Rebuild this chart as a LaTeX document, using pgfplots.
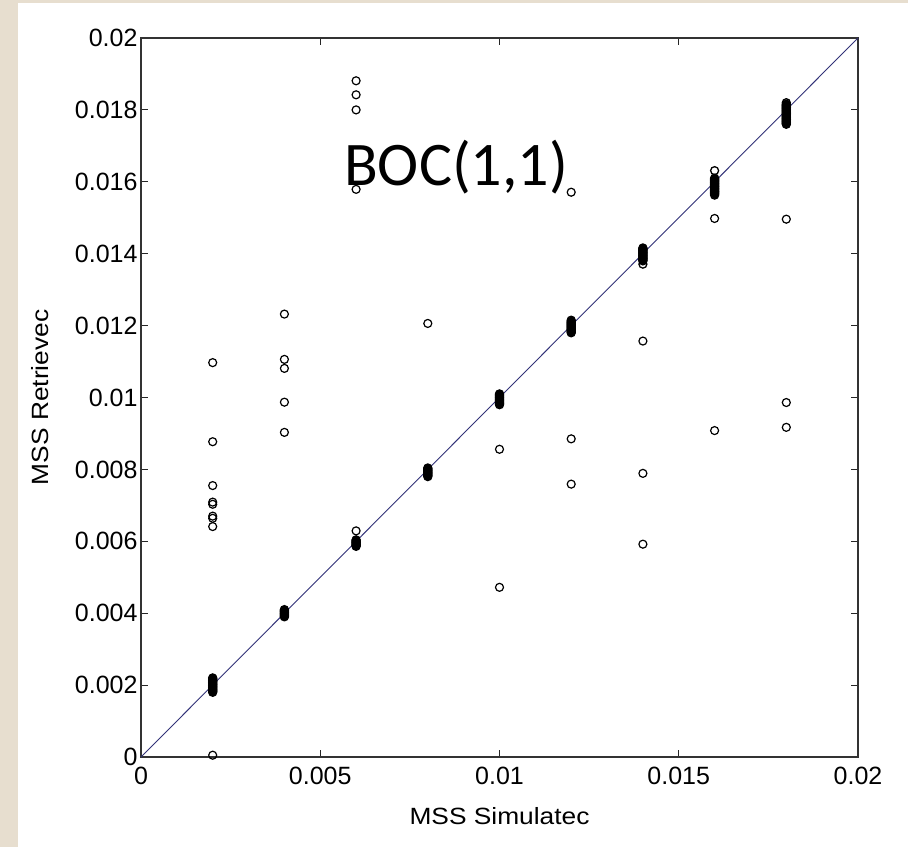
\documentclass[border=0pt]{standalone}
\usepackage{fontspec}
\usepackage{graphicx}
\usepackage{pgfplots}
\pgfplotsset{compat=1.18}
\setmainfont{Liberation Sans}
\newfontfamily\calib{Carlito}
\definecolor{beige}{RGB}{231,222,207}
\definecolor{diag}{RGB}{50,50,120}
\pgfplotstableread{
x y
0.002 0.0018
0.002 0.00182
0.002 0.00184
0.002 0.00186
0.002 0.00188
0.002 0.0019
0.002 0.00192
0.002 0.00194
0.002 0.00196
0.002 0.00198
0.002 0.002
0.002 0.00202
0.002 0.00204
0.002 0.00206
0.002 0.00208
0.002 0.0021
0.002 0.00212
0.002 0.00214
0.002 0.00216
0.002 0.00218
0.002 0.0022
0.004 0.0039
0.004 0.00392
0.004 0.00394
0.004 0.00396
0.004 0.00398
0.004 0.004
0.004 0.00402
0.004 0.00404
0.004 0.00406
0.004 0.00408
0.004 0.0041
0.006 0.00586
0.006 0.00588
0.006 0.0059
0.006 0.00592
0.006 0.00594
0.006 0.00596
0.006 0.00598
0.006 0.006
0.006 0.00602
0.006 0.00604
0.008 0.0078
0.008 0.00782
0.008 0.00784
0.008 0.00786
0.008 0.00788
0.008 0.0079
0.008 0.00792
0.008 0.00794
0.008 0.00796
0.008 0.00798
0.008 0.008
0.008 0.00802
0.008 0.00804
0.010 0.0098
0.010 0.00982
0.010 0.00984
0.010 0.00986
0.010 0.00988
0.010 0.0099
0.010 0.00992
0.010 0.00994
0.010 0.00996
0.010 0.00998
0.010 0.01
0.010 0.01002
0.010 0.01004
0.010 0.01006
0.010 0.01008
0.010 0.0101
0.012 0.0118
0.012 0.01182
0.012 0.01184
0.012 0.01186
0.012 0.01188
0.012 0.0119
0.012 0.01192
0.012 0.01194
0.012 0.01196
0.012 0.01198
0.012 0.012
0.012 0.01202
0.012 0.01204
0.012 0.01206
0.012 0.01208
0.012 0.0121
0.012 0.01212
0.012 0.01215
0.014 0.01371
0.014 0.0138
0.014 0.01382
0.014 0.01384
0.014 0.01386
0.014 0.01388
0.014 0.0139
0.014 0.01392
0.014 0.01394
0.014 0.01396
0.014 0.01398
0.014 0.014
0.014 0.01402
0.014 0.01404
0.014 0.01406
0.014 0.01408
0.014 0.0141
0.014 0.01412
0.014 0.01414
0.014 0.01416
0.016 0.01563
0.016 0.01566
0.016 0.01568
0.016 0.0157
0.016 0.01572
0.016 0.01574
0.016 0.01576
0.016 0.01578
0.016 0.0158
0.016 0.01582
0.016 0.01584
0.016 0.01586
0.016 0.01588
0.016 0.0159
0.016 0.01592
0.016 0.01594
0.016 0.01596
0.016 0.01598
0.016 0.016
0.016 0.01602
0.016 0.01604
0.016 0.01606
0.016 0.01608
0.016 0.0161
0.016 0.01631
0.018 0.0176
0.018 0.01762
0.018 0.01764
0.018 0.01766
0.018 0.01768
0.018 0.0177
0.018 0.01772
0.018 0.01774
0.018 0.01776
0.018 0.01778
0.018 0.0178
0.018 0.01782
0.018 0.01784
0.018 0.01786
0.018 0.01788
0.018 0.0179
0.018 0.01792
0.018 0.01794
0.018 0.01796
0.018 0.01798
0.018 0.018
0.018 0.01802
0.018 0.01804
0.018 0.01806
0.018 0.01808
0.018 0.0181
0.018 0.01812
0.018 0.01814
0.018 0.01816
0.018 0.0182
}\clusters
\pgfplotstableread{
x y
0.002 0.01097
0.002 0.00877
0.002 0.00755
0.002 0.00709
0.002 0.00703
0.002 0.00670
0.002 0.00664
0.002 0.00641
0.002 0.00005
0.004 0.01232
0.004 0.01106
0.004 0.01081
0.004 0.00987
0.004 0.00903
0.006 0.00629
0.006 0.01881
0.006 0.01842
0.006 0.01800
0.006 0.01579
0.008 0.01206
0.010 0.00856
0.010 0.00472
0.012 0.01571
0.012 0.00885
0.012 0.00759
0.014 0.01157
0.014 0.00789
0.014 0.00592
0.016 0.01498
0.016 0.00908
0.018 0.01496
0.018 0.00986
0.018 0.00917
}\outliers
\begin{document}
\begin{tikzpicture}[x=1pt,y=1pt]
\path[use as bounding box] (0,0) rectangle (908,847);
\fill[beige] (0,0) rectangle (908,847);
\fill[white] (18,0) rectangle (908,844);
\begin{axis}[
  at={(141pt,90pt)}, anchor=south west,
  scale only axis, width=717pt, height=719pt,
  xmin=0, xmax=0.02, ymin=0, ymax=0.02,
  scaled ticks=false,
  xtick={0,0.005,0.01,0.015,0.02},
  xticklabels={0,0.005,0.01,0.015,0.02},
  ytick={0,0.002,0.004,0.006,0.008,0.01,0.012,0.014,0.016,0.018,0.02},
  yticklabels={0,0.002,0.004,0.006,0.008,0.01,0.012,0.014,0.016,0.018,0.02},
  tick align=inside, major tick length=7pt,
  tick style={black!85, line width=1pt},
  axis line style={black!80, line width=1.3pt},
  tick label style={font=\fontsize{25}{25}\selectfont},
  xticklabel style={yshift=-7pt},
  yticklabel style={xshift=0pt},
  /pgf/number format/assume math mode=true,
  xlabel={\scalebox{1.12}[1]{MSS Simulatec}},
  ylabel={\scalebox{1.12}[1]{MSS Retrievec}},
  xlabel style={at={(axis description cs:0.5,-0.0821)}, anchor=center},
  ylabel style={at={(axis description cs:-0.1409,0.5)}, anchor=center},
  label style={font=\fontsize{23.5}{23.5}\selectfont},
  clip=false,
]
\addplot[diag, line width=0.9pt] coordinates {(0,0) (0.02,0.02)};
\addplot[only marks, mark=o, mark size=4pt, mark options={line width=1.3pt, black}] table[x=x,y=y] {\clusters};
\addplot[only marks, mark=o, mark size=4pt, mark options={line width=1.2pt, black}] table[x=x,y=y] {\outliers};
\node[anchor=base, font=\calib\fontsize{62}{62}\selectfont, inner sep=0pt] at (axis cs:0.00879,0.01591) {BOC(1,1)};
\end{axis}
\end{tikzpicture}
\end{document}
